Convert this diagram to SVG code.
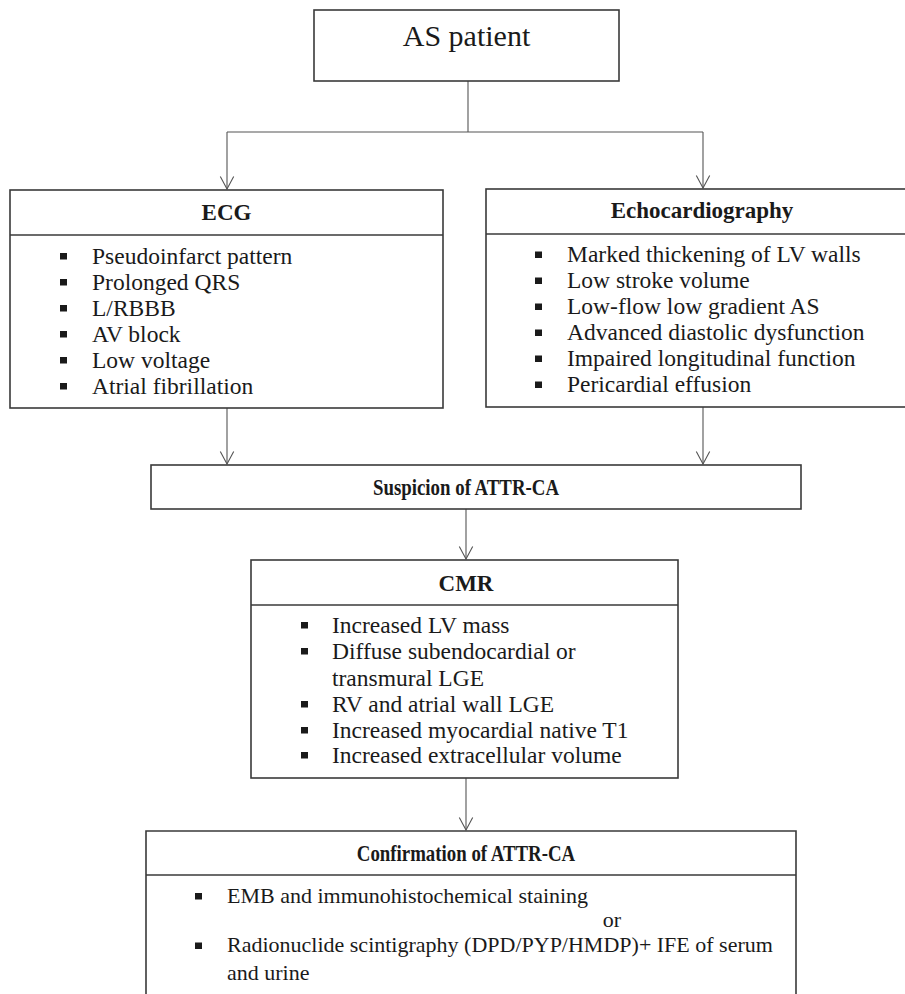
<svg xmlns="http://www.w3.org/2000/svg" width="905" height="994" viewBox="0 0 905 994">
<style>
.box{fill:#fff;stroke:#3a3a3a;stroke-width:1.6}
.div{stroke:#3a3a3a;stroke-width:1.6;fill:none}
.con{stroke:#555;stroke-width:1.1;fill:none}
.t{font-family:"Liberation Serif","Times New Roman",serif;fill:#1a1a1a}
.item{font-size:23.5px}
.hd{font-size:23px;font-weight:bold;text-anchor:middle}
.tn{font-size:23px;font-weight:bold;text-anchor:middle}
.cf{font-size:22px}
.b{fill:#1a1a1a}
</style>
<defs>
<marker id="ah" viewBox="0 0 14 16" refX="13" refY="8" markerWidth="14" markerHeight="16" markerUnits="userSpaceOnUse" orient="auto">
<path d="M0.5,1.3 L13,8 L0.5,14.7" fill="none" stroke="#555" stroke-width="1.1"/>
</marker>
</defs>
<g id="connectors">
<path class="con" d="M468,81 V132"/>
<path class="con" d="M227,132 H703"/>
<path class="con" d="M227,132 V189" marker-end="url(#ah)"/>
<path class="con" d="M703,132 V188" marker-end="url(#ah)"/>
<path class="con" d="M227,408 V464" marker-end="url(#ah)"/>
<path class="con" d="M703,407 V464" marker-end="url(#ah)"/>
<path class="con" d="M466,509 V559" marker-end="url(#ah)"/>
<path class="con" d="M466,778 V830" marker-end="url(#ah)"/>
</g>
<g id="as-patient">
<rect class="box" x="314" y="10" width="305" height="71"/>
<text class="t" x="466.5" y="46" font-size="30" text-anchor="middle">AS patient</text>
</g>
<g id="ecg">
<rect class="box" x="10" y="190" width="433" height="218"/>
<path class="div" d="M10,235 H443"/>
<text class="t hd" x="226.5" y="220">ECG</text>
<rect class="b" x="60" y="253" width="7" height="6.5"/>
<rect class="b" x="60" y="279" width="7" height="6.5"/>
<rect class="b" x="60" y="305" width="7" height="6.5"/>
<rect class="b" x="60" y="331" width="7" height="6.5"/>
<rect class="b" x="60" y="357" width="7" height="6.5"/>
<rect class="b" x="60" y="383" width="7" height="6.5"/>
<text class="t item" x="92" y="264">Pseudoinfarct pattern</text>
<text class="t item" x="92" y="290">Prolonged QRS</text>
<text class="t item" x="92" y="316">L/RBBB</text>
<text class="t item" x="92" y="342">AV block</text>
<text class="t item" x="92" y="368">Low voltage</text>
<text class="t item" x="92" y="394">Atrial fibrillation</text>
</g>
<g id="echocardiography">
<rect class="box" x="486" y="189" width="425" height="218"/>
<path class="div" d="M486,234 H911"/>
<text class="t hd" x="702" y="218">Echocardiography</text>
<rect class="b" x="535" y="251.5" width="7" height="6.5"/>
<rect class="b" x="535" y="277.5" width="7" height="6.5"/>
<rect class="b" x="535" y="303.5" width="7" height="6.5"/>
<rect class="b" x="535" y="329.5" width="7" height="6.5"/>
<rect class="b" x="535" y="355.5" width="7" height="6.5"/>
<rect class="b" x="535" y="381.5" width="7" height="6.5"/>
<text class="t item" x="567" y="262">Marked thickening of LV walls</text>
<text class="t item" x="567" y="288">Low stroke volume</text>
<text class="t item" x="567" y="314">Low-flow low gradient AS</text>
<text class="t item" x="567" y="340">Advanced diastolic dysfunction</text>
<text class="t item" x="567" y="366">Impaired longitudinal function</text>
<text class="t item" x="567" y="392">Pericardial effusion</text>
</g>
<g id="suspicion">
<rect class="box" x="151" y="465" width="650" height="44"/>
<text class="t tn" transform="translate(466,495) scale(0.82,1)">Suspicion of ATTR-CA</text>
</g>
<g id="cmr">
<rect class="box" x="251" y="560" width="427" height="218"/>
<path class="div" d="M251,605 H678"/>
<text class="t hd" x="466" y="591">CMR</text>
<rect class="b" x="301" y="622" width="7" height="6.5"/>
<rect class="b" x="301" y="648" width="7" height="6.5"/>
<rect class="b" x="301" y="701" width="7" height="6.5"/>
<rect class="b" x="301" y="727" width="7" height="6.5"/>
<rect class="b" x="301" y="752" width="7" height="6.5"/>
<text class="t item" x="332" y="633">Increased LV mass</text>
<text class="t item" x="332" y="659">Diffuse subendocardial or</text>
<text class="t item" x="332" y="686">transmural LGE</text>
<text class="t item" x="332" y="712">RV and atrial wall LGE</text>
<text class="t item" x="332" y="738">Increased myocardial native T1</text>
<text class="t item" x="332" y="763">Increased extracellular volume</text>
</g>
<g id="confirmation">
<path class="box" d="M146,1000 V831 H796 V1000"/>
<path class="div" d="M146,875 H796"/>
<text class="t tn" transform="translate(466,861) scale(0.82,1)">Confirmation of ATTR-CA</text>
<rect class="b" x="195" y="893" width="7" height="6.5"/>
<rect class="b" x="195" y="942.5" width="7" height="6.5"/>
<text class="t cf" x="227" y="903">EMB and immunohistochemical staining</text>
<text class="t cf" x="612" y="927" text-anchor="middle">or</text>
<text class="t cf" x="227" y="952">Radionuclide scintigraphy (DPD/PYP/HMDP)+ IFE of serum</text>
<text class="t cf" x="227" y="980">and urine</text>
</g>
</svg>
